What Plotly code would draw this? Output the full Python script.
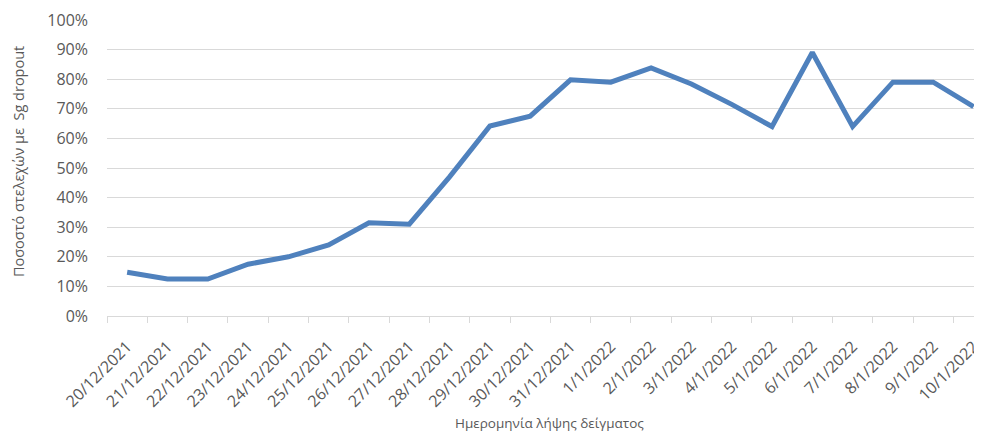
import plotly.graph_objects as go

dates = ["20/12/2021", "21/12/2021", "22/12/2021", "23/12/2021", "24/12/2021",
         "25/12/2021", "26/12/2021", "27/12/2021", "28/12/2021", "29/12/2021",
         "30/12/2021", "31/12/2021", "1/1/2022", "2/1/2022", "3/1/2022",
         "4/1/2022", "5/1/2022", "6/1/2022", "7/1/2022", "8/1/2022",
         "9/1/2022", "10/1/2022"]
dropout_pct = [0.148, 0.125, 0.125, 0.175, 0.20, 0.24, 0.315, 0.31, 0.47, 0.642,
               0.675, 0.798, 0.79, 0.838, 0.784, 0.715, 0.64, 0.89, 0.64, 0.79,
               0.79, 0.707]
y_ticks = [0, 0.1, 0.2, 0.3, 0.4, 0.5, 0.6, 0.7, 0.8, 0.9, 1.0]
x_title = "Ημερομηνία λήψης δείγματος"
y_title = "Ποσοστό στελεχών με  Sg dropout"

txt = "#595959"
font = "Open Sans"

fig = go.Figure()
fig.add_trace(go.Scatter(
    x=dates, y=dropout_pct, mode="lines",
    line=dict(color="#4F81BD", width=5),
    hoverinfo="x+y",
))

# the page body has an 8px margin, so the figure is sized to fill the rest
fig.update_layout(
    width=974, height=423,
    margin=dict(l=99, r=0, t=12, b=115),
    paper_bgcolor="white", plot_bgcolor="white",
    showlegend=False,
    font=dict(family=font, color=txt, size=14),
    xaxis=dict(
        type="category",
        range=[-0.5, 21.21],
        automargin=False,
        tickson="boundaries",
        ticks="outside", ticklen=6, tickcolor="#d9d9d9", tickwidth=1,
        tickangle=-45,
        ticklabelstandoff=14,
        tickfont=dict(size=16, color=txt, family=font),
        showgrid=False,
        showline=True, linecolor="#d9d9d9", linewidth=1,
    ),
    yaxis=dict(
        range=[0, 1.0],
        automargin=False,
        tickvals=y_ticks,
        tickformat=".0%",
        tickfont=dict(size=16, color=txt, family=font),
        showgrid=True, gridcolor="#d9d9d9", gridwidth=1,
        zeroline=False,
        ticks="", ticklabelstandoff=18,
    ),
    annotations=[
        dict(text=x_title, xref="paper", yref="paper", x=0.506, y=-0.3615,
             xanchor="center", yanchor="middle", showarrow=False,
             font=dict(size=13.5, color=txt, family=font)),
        dict(text=y_title, xref="paper", yref="paper", x=-0.1017, y=0.52,
             xanchor="center", yanchor="middle", showarrow=False, textangle=-90,
             font=dict(size=14.5, color=txt, family=font)),
    ],
)

fig.write_html("out.html")
